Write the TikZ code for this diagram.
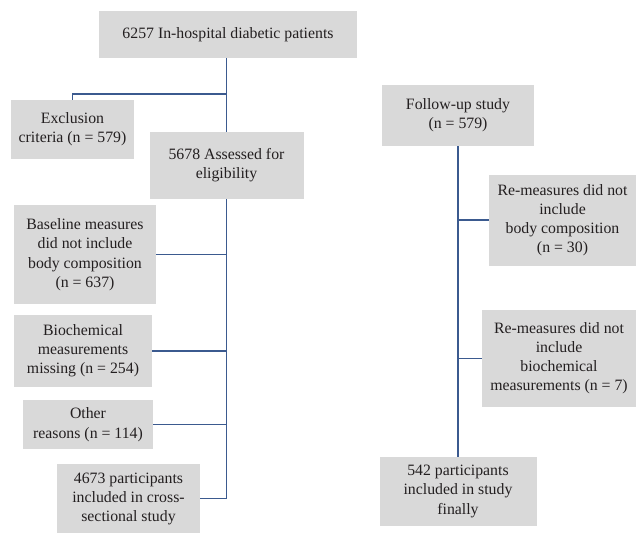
\documentclass[tikz,border=0pt]{standalone}
\usepackage{fontspec}
\setmainfont{Liberation Serif}
\definecolor{boxfill}{HTML}{D9D9D9}
\definecolor{linec}{HTML}{3B5A8F}
\definecolor{txt}{HTML}{231F20}
\begin{document}
\begin{tikzpicture}[x=1pt,y=-1pt,
  box/.style={fill=boxfill,draw=none,align=center,inner sep=0pt,text=txt,
    font=\fontsize{15.8}{19.2}\selectfont},
  conn/.style={draw=linec,line width=1.5pt}]
\useasboundingbox (0,0) rectangle (636,533);
\node[box,minimum width=258pt,minimum height=47pt] (top) at (228,34.5) {6257 In-hospital diabetic patients};
\node[box,minimum width=123pt,minimum height=59pt] (excl) at (72.5,129.5) {Exclusion\\criteria (n = 579)};
\node[box,minimum width=154pt,minimum height=67pt] (elig) at (226.5,165.5) {5678 Assessed for\\eligibility};
\node[box,minimum width=142pt,minimum height=99pt] (base) at (85,254.7) {Baseline measures\\did not include\\body composition\\(n = 637)};
\node[box,minimum width=138pt,minimum height=72pt] (bio) at (83,351) {Biochemical\\measurements\\missing (n = 254)};
\node[box,minimum width=130pt,minimum height=49pt] (other) at (88,424.7) {Other\\reasons (n = 114)};
\node[box,minimum width=143pt,minimum height=69pt] (fin1) at (128.5,498.7) {4673 participants\\included in cross-\\sectional study};
\node[box,minimum width=152pt,minimum height=61pt] (follow) at (458,115.3) {Follow-up study\\(n = 579)};
\node[box,minimum width=147pt,minimum height=91pt] (rem1) at (562.5,220) {Re-measures did not\\include\\body composition\\(n = 30)};
\node[box,minimum width=154pt,minimum height=97pt] (rem2) at (559,358.3) {Re-measures did not\\include\\biochemical\\measurements (n = 7)};
\node[box,minimum width=157pt,minimum height=69pt] (fin2) at (458,491.3) {542 participants\\included in study\\finally};
\coordinate (b1) at (226.5,94);
\draw[conn] (top.south -| elig.north) -- (elig.north);
\draw[conn] (b1) -| (excl.north);
\draw[conn] (elig.south) |- (fin1.east);
\draw[conn] (base.east) -- (base.east -| elig.south);
\draw[conn] (bio.east) -- (bio.east -| elig.south);
\draw[conn] (other.east) -- (other.east -| elig.south);
\draw[conn] (follow.south) -- (fin2.north);
\draw[conn] (rem1.west) -- (rem1.west -| follow.south);
\draw[conn] (rem2.west) -- (rem2.west -| follow.south);
\end{tikzpicture}
\end{document}
